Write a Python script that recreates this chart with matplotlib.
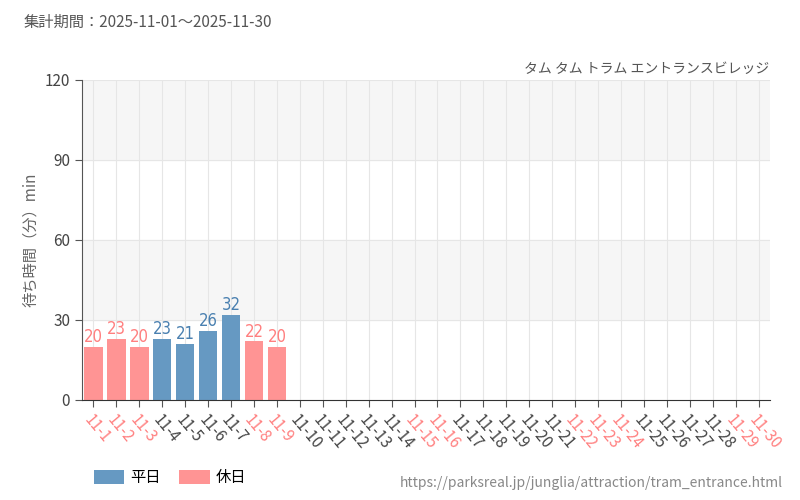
import matplotlib.pyplot as plt
import numpy as np

plt.rcParams['font.family'] = ['Noto Sans CJK JP', 'DejaVu Sans']

days = [f"11-{d}" for d in range(1, 31)]
waits = [20, 23, 20, 23, 21, 26, 32, 22, 20]
holidays = [1, 2, 3, 8, 9, 15, 16, 22, 23, 24, 29, 30]

c_week = "#6699c2"
c_hol = "#ff9494"
c_week_txt = "#4a80b0"
c_hol_txt = "#ff7f7f"

fig = plt.figure(figsize=(8, 5), dpi=100)
ax = fig.add_axes([0.1025, 0.2, 0.86, 0.64])

x = np.arange(len(days))
ax.set_xlim(-0.5, len(days) - 0.5)
ax.set_ylim(0, 120)
ax.axhspan(90, 120, color="#f6f6f6", zorder=0)
ax.axhspan(30, 60, color="#f6f6f6", zorder=0)
for xi in x:
    ax.axvline(xi, color="#e6e6e6", lw=0.8, zorder=0)
for yv in [30, 60, 90, 120]:
    ax.axhline(yv, color="#e6e6e6", lw=0.8, zorder=0)

for i, v in enumerate(waits):
    hol = (i + 1) in holidays
    ax.bar(i, v, width=0.8, color=c_hol if hol else c_week, zorder=2)
    ax.text(i, v + 0.3, str(v), ha="center", va="bottom", fontsize=12,
            color=c_hol_txt if hol else c_week_txt,
            family="DejaVu Sans", stretch="condensed", zorder=3)

ax.set_xticks(x)
ax.set_xticklabels(days, rotation=-50, ha="left", rotation_mode="anchor", fontsize=11)
for i, lab in enumerate(ax.get_xticklabels()):
    lab.set_color(c_hol_txt if (i + 1) in holidays else "#444444")
ax.set_yticks([0, 30, 60, 90, 120])
ax.tick_params(axis="y", labelsize=11, labelcolor="#444444", length=5, color="#555555")
ax.tick_params(axis="x", length=5, color="#555555")
for s in ["top", "right"]:
    ax.spines[s].set_visible(False)
ax.spines["left"].set_color("#555555")
ax.spines["bottom"].set_color("#333333")
ax.set_ylabel("待ち時間（分）min", fontsize=11, color="#666666")

fig.text(0.03, 0.955, "集計期間：2025-11-01～2025-11-30", fontsize=11, color="#555555", va="center")
fig.text(0.962, 0.862, "タム タム トラム エントランスビレッジ", fontsize=10, color="#555555", ha="right", va="center")
fig.text(0.978, 0.034, "https://parksreal.jp/junglia/attraction/tram_entrance.html",
         fontsize=10, color="#888888", ha="right", va="center")

ax.bar([0], [0], color=c_week, label="平日")
ax.bar([0], [0], color=c_hol, label="休日")
fig.legend(loc="lower left", bbox_to_anchor=(0.1, 0.0), ncol=2, frameon=False,
           fontsize=11, handlelength=2.0, handleheight=1.0, handletextpad=0.4,
           columnspacing=1.2)

fig.savefig("out.png", dpi=100)
